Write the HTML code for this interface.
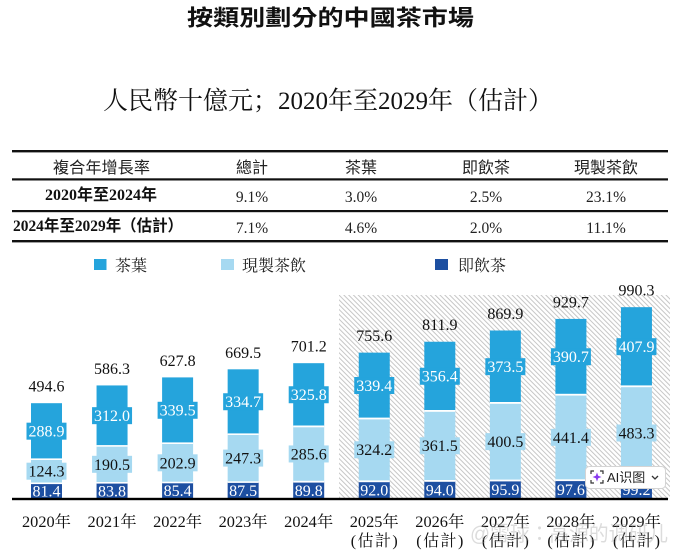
<!DOCTYPE html>
<html>
<head>
<meta charset="utf-8">
<style>
html,body{margin:0;padding:0;background:#fff;}
svg{display:block;}
.serif{font-family:"Liberation Serif","Noto Serif CJK SC",serif;}
.sans{font-family:"Liberation Sans","Noto Sans CJK TC",sans-serif;}
.bsans{font-family:"Liberation Serif","Noto Sans CJK TC",sans-serif;font-weight:bold;}
.num{font-family:"Liberation Serif",serif;font-size:16px;}
</style>
</head>
<body>
<svg width="689" height="553" viewBox="0 0 689 553" xmlns="http://www.w3.org/2000/svg">
<defs>
<pattern id="hatch" width="3.4" height="3.4" patternUnits="userSpaceOnUse" patternTransform="rotate(-45)">
<rect x="0" y="0" width="1" height="3.4" fill="#c6c6c6"/>
</pattern>
</defs>
<rect width="689" height="553" fill="#fff"/>

<!-- Title -->
<text x="187" y="25.5" class="sans" font-weight="bold" font-size="22" textLength="287" lengthAdjust="spacingAndGlyphs" fill="#111">按類別劃分的中國茶市場</text>
<text x="103" y="109" class="serif" font-size="25" textLength="450" lengthAdjust="spacingAndGlyphs" fill="#111">人民幣十億元；2020年至2029年（估計）</text>

<!-- Table -->
<rect x="12" y="150" width="656" height="2.4" fill="#111"/>
<rect x="12" y="178.3" width="656" height="2.2" fill="#111"/>
<rect x="12" y="210" width="656" height="2.2" fill="#111"/>
<rect x="12" y="240" width="656" height="2.4" fill="#111"/>

<g class="sans" font-size="16" fill="#222" text-anchor="middle">
<text x="101.5" y="173" textLength="97" lengthAdjust="spacingAndGlyphs">複合年增長率</text>
<text x="252" y="173">總計</text>
<text x="361" y="173">茶葉</text>
<text x="486" y="173" textLength="48" lengthAdjust="spacingAndGlyphs">即飲茶</text>
<text x="606" y="173" textLength="64" lengthAdjust="spacingAndGlyphs">現製茶飲</text>
</g>
<text x="101" y="200" class="bsans" font-size="16" text-anchor="middle" textLength="112" lengthAdjust="spacingAndGlyphs" fill="#111">2020年至2024年</text>
<text x="13" y="231" class="bsans" font-size="16" textLength="170" lengthAdjust="spacingAndGlyphs" fill="#111">2024年至2029年（估計）</text>
<g font-family="Liberation Serif, serif" font-size="15.5" fill="#222" text-anchor="middle">
<text x="252" y="202">9.1%</text>
<text x="361" y="202">3.0%</text>
<text x="486" y="202">2.5%</text>
<text x="606" y="202">23.1%</text>
<text x="252" y="233">7.1%</text>
<text x="361" y="233">4.6%</text>
<text x="486" y="233">2.0%</text>
<text x="606" y="233">11.1%</text>
</g>

<!-- Legend -->
<rect x="94" y="259" width="12.5" height="11" fill="#25a4dc"/>
<text x="115" y="271" class="serif" font-size="16" fill="#222">茶葉</text>
<rect x="221" y="259" width="13" height="11" fill="#a6d9f1"/>
<text x="242" y="271" class="serif" font-size="16" fill="#222">現製茶飲</text>
<rect x="435" y="259" width="13" height="11" fill="#1d4fa1"/>
<text x="458" y="271" class="serif" font-size="16" fill="#222">即飲茶</text>

<!-- Hatched forecast region -->
<rect x="339" y="295" width="331" height="204" fill="url(#hatch)"/>

<!-- Bars -->
<g>
<rect x="31" y="403.19" width="31" height="55.96" fill="#25a4dc"/>
<rect x="31" y="459.15" width="31" height="24.08" fill="#a6d9f1"/>
<rect x="31" y="483.23" width="31" height="15.77" fill="#1d4fa1"/>
<rect x="96.55" y="385.44" width="31" height="60.43" fill="#25a4dc"/>
<rect x="96.55" y="445.87" width="31" height="36.9" fill="#a6d9f1"/>
<rect x="96.55" y="482.77" width="31" height="16.23" fill="#1d4fa1"/>
<rect x="162.1" y="377.4" width="31" height="65.76" fill="#25a4dc"/>
<rect x="162.1" y="443.16" width="31" height="39.3" fill="#a6d9f1"/>
<rect x="162.1" y="482.46" width="31" height="16.54" fill="#1d4fa1"/>
<rect x="227.65" y="369.32" width="31" height="64.83" fill="#25a4dc"/>
<rect x="227.65" y="434.15" width="31" height="47.9" fill="#a6d9f1"/>
<rect x="227.65" y="482.05" width="31" height="16.95" fill="#1d4fa1"/>
<rect x="293.2" y="363.18" width="31" height="63.11" fill="#25a4dc"/>
<rect x="293.2" y="426.29" width="31" height="55.32" fill="#a6d9f1"/>
<rect x="293.2" y="481.61" width="31" height="17.39" fill="#1d4fa1"/>
<rect x="358.75" y="352.64" width="31" height="65.74" fill="#25a4dc"/>
<rect x="358.75" y="418.38" width="31" height="62.8" fill="#a6d9f1"/>
<rect x="358.75" y="481.18" width="31" height="17.82" fill="#1d4fa1"/>
<rect x="424.3" y="341.74" width="31" height="69.03" fill="#25a4dc"/>
<rect x="424.3" y="410.77" width="31" height="70.02" fill="#a6d9f1"/>
<rect x="424.3" y="480.79" width="31" height="18.21" fill="#1d4fa1"/>
<rect x="489.85" y="330.49" width="31" height="72.35" fill="#25a4dc"/>
<rect x="489.85" y="402.84" width="31" height="77.58" fill="#a6d9f1"/>
<rect x="489.85" y="480.42" width="31" height="18.58" fill="#1d4fa1"/>
<rect x="555.4" y="318.91" width="31" height="75.68" fill="#25a4dc"/>
<rect x="555.4" y="394.59" width="31" height="85.5" fill="#a6d9f1"/>
<rect x="555.4" y="480.09" width="31" height="18.91" fill="#1d4fa1"/>
<rect x="620.95" y="307.17" width="31" height="79.01" fill="#25a4dc"/>
<rect x="620.95" y="386.18" width="31" height="93.61" fill="#a6d9f1"/>
<rect x="620.95" y="479.79" width="31" height="19.21" fill="#1d4fa1"/>
</g>

<!-- white separators -->
<g fill="#fff">
<rect x="31" y="458.4" width="31" height="1.6"/><rect x="31" y="482.5" width="31" height="1.6"/>
<rect x="96.55" y="445.1" width="31" height="1.6"/><rect x="96.55" y="482" width="31" height="1.6"/>
<rect x="162.1" y="442.4" width="31" height="1.6"/><rect x="162.1" y="481.7" width="31" height="1.6"/>
<rect x="227.65" y="433.4" width="31" height="1.6"/><rect x="227.65" y="481.3" width="31" height="1.6"/>
<rect x="293.2" y="425.5" width="31" height="1.8"/><rect x="293.2" y="480.8" width="31" height="1.8"/>
<rect x="358.75" y="417.6" width="31" height="1.8"/><rect x="358.75" y="480.4" width="31" height="1.8"/>
<rect x="424.3" y="410" width="31" height="1.8"/><rect x="424.3" y="480" width="31" height="1.8"/>
<rect x="489.85" y="402" width="31" height="1.8"/><rect x="489.85" y="479.6" width="31" height="1.8"/>
<rect x="555.4" y="393.8" width="31" height="1.8"/><rect x="555.4" y="479.3" width="31" height="1.8"/>
<rect x="620.95" y="385.4" width="31" height="1.8"/><rect x="620.95" y="479" width="31" height="1.8"/>
</g>

<!-- label boxes: tea -->
<g fill="#25a4dc">
<rect x="26.5" y="422.67" width="40" height="17"/>
<rect x="92.05" y="407.16" width="40" height="17"/>
<rect x="157.6" y="401.78" width="40" height="17"/>
<rect x="223.15" y="393.24" width="40" height="17"/>
<rect x="288.7" y="386.24" width="40" height="17"/>
<rect x="354.25" y="377.01" width="40" height="17"/>
<rect x="419.8" y="367.76" width="40" height="17"/>
<rect x="485.35" y="358.17" width="40" height="17"/>
<rect x="550.9" y="348.25" width="40" height="17"/>
<rect x="616.45" y="338.18" width="40" height="17"/>
</g>
<!-- label boxes: light -->
<g fill="#a6d9f1">
<rect x="26.5" y="462.69" width="40" height="17"/>
<rect x="92.05" y="455.82" width="40" height="17"/>
<rect x="157.6" y="454.31" width="40" height="17"/>
<rect x="223.15" y="449.6" width="40" height="17"/>
<rect x="288.7" y="445.45" width="40" height="17"/>
<rect x="354.25" y="441.28" width="40" height="17"/>
<rect x="419.8" y="437.28" width="40" height="17"/>
<rect x="485.35" y="433.13" width="40" height="17"/>
<rect x="550.9" y="428.84" width="40" height="17"/>
<rect x="616.45" y="424.49" width="40" height="17"/>
</g>

<!-- labels -->
<g class="num" text-anchor="middle">
<g fill="#111">
<text x="46.5" y="391.7">494.6</text>
<text x="112.05" y="373.9">586.3</text>
<text x="177.6" y="365.9">627.8</text>
<text x="243.15" y="357.8">669.5</text>
<text x="308.7" y="351.7">701.2</text>
<text x="374.25" y="341.1">755.6</text>
<text x="439.8" y="330.2">811.9</text>
<text x="505.35" y="319">869.9</text>
<text x="570.9" y="307.4">929.7</text>
<text x="636.45" y="295.7">990.3</text>
</g>
<g fill="#fff">
<text x="46.5" y="436.6">288.9</text>
<text x="112.05" y="421.1">312.0</text>
<text x="177.6" y="415.7">339.5</text>
<text x="243.15" y="407.2">334.7</text>
<text x="308.7" y="400.2">325.8</text>
<text x="374.25" y="391">339.4</text>
<text x="439.8" y="381.7">356.4</text>
<text x="505.35" y="372.1">373.5</text>
<text x="570.9" y="362.2">390.7</text>
<text x="636.45" y="352.1">407.9</text>
</g>
<g fill="#111">
<text x="46.5" y="476.6">124.3</text>
<text x="112.05" y="469.8">190.5</text>
<text x="177.6" y="468.3">202.9</text>
<text x="243.15" y="463.6">247.3</text>
<text x="308.7" y="459.4">285.6</text>
<text x="374.25" y="455.2">324.2</text>
<text x="439.8" y="451.2">361.5</text>
<text x="505.35" y="447.1">400.5</text>
<text x="570.9" y="442.8">441.4</text>
<text x="636.45" y="438.4">483.3</text>
</g>
<g fill="#fff">
<text x="46.5" y="496.6">81.4</text>
<text x="112.05" y="496.4">83.8</text>
<text x="177.6" y="496.2">85.4</text>
<text x="243.15" y="496">87.5</text>
<text x="308.7" y="495.8">89.8</text>
<text x="374.25" y="495.6">92.0</text>
<text x="439.8" y="495.4">94.0</text>
<text x="505.35" y="495.2">95.9</text>
<text x="570.9" y="495">97.6</text>
<text x="636.45" y="494.9">99.2</text>
</g>
</g>

<!-- axis -->
<rect x="12" y="497.8" width="656" height="2.4" fill="#000"/>

<!-- x labels -->
<g class="serif" font-size="16" fill="#111" text-anchor="middle">
<text x="46.5" y="527" textLength="49" lengthAdjust="spacingAndGlyphs">2020年</text>
<text x="112.05" y="527" textLength="49" lengthAdjust="spacingAndGlyphs">2021年</text>
<text x="177.6" y="527" textLength="49" lengthAdjust="spacingAndGlyphs">2022年</text>
<text x="243.15" y="527" textLength="49" lengthAdjust="spacingAndGlyphs">2023年</text>
<text x="308.7" y="527" textLength="49" lengthAdjust="spacingAndGlyphs">2024年</text>
<text x="374.25" y="527" textLength="49" lengthAdjust="spacingAndGlyphs">2025年</text>
<text x="439.8" y="527" textLength="49" lengthAdjust="spacingAndGlyphs">2026年</text>
<text x="505.35" y="527" textLength="49" lengthAdjust="spacingAndGlyphs">2027年</text>
<text x="570.9" y="527" textLength="49" lengthAdjust="spacingAndGlyphs">2028年</text>
<text x="636.45" y="527" textLength="49" lengthAdjust="spacingAndGlyphs">2029年</text>
<text x="374.25" y="546" textLength="47" lengthAdjust="spacing">(估計)</text>
<text x="439.8" y="546" textLength="47" lengthAdjust="spacing">(估計)</text>
<text x="505.35" y="546" textLength="47" lengthAdjust="spacing">(估計)</text>
<text x="570.9" y="546" textLength="47" lengthAdjust="spacing">(估計)</text>
<text x="636.45" y="546" textLength="47" lengthAdjust="spacing">(估計)</text>
</g>

<!-- watermark -->
<text x="470" y="541" class="sans" font-size="21" fill="#9a9a9a" fill-opacity="0.35" textLength="198" lengthAdjust="spacingAndGlyphs">@雪球：高源的调研儿</text>

<!-- AI button overlay -->
<rect x="585.5" y="466.5" width="80" height="22" rx="4" ry="4" fill="#fff" stroke="#d4d4d4" stroke-width="1"/>
<g fill="none" stroke="#333" stroke-width="1.2">
<path d="M591 474 v-3 h3 M600 471 h3 v3 M603 480 v3 h-3 M594 483 h-3 v-3"/>
</g>
<path d="M597 472.5 L598.2 475.8 L601.5 477 L598.2 478.2 L597 481.5 L595.8 478.2 L592.5 477 L595.8 475.8 Z" fill="#8a3cf0"/>
<text x="607" y="482" class="sans" font-size="13" fill="#222">AI识图</text>
<path d="M652 476 l3 3 l3 -3" fill="none" stroke="#333" stroke-width="1.3"/>
</svg>
</body>
</html>
